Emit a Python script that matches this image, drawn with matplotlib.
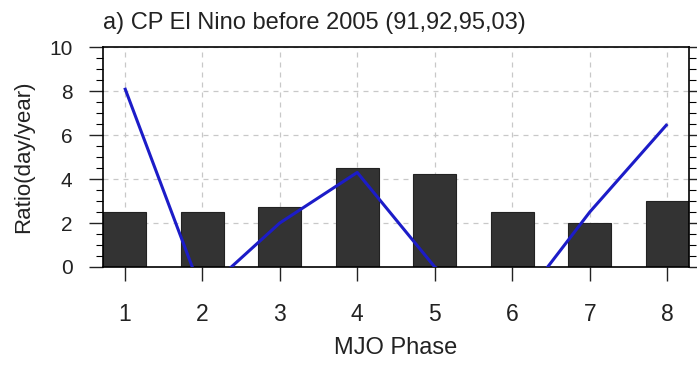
import matplotlib
matplotlib.use("Agg")
import matplotlib.pyplot as plt
from matplotlib.ticker import MultipleLocator

plt.rcParams['font.family'] = ['Liberation Sans', 'DejaVu Sans']

phases = [1, 2, 3, 4, 5, 6, 7, 8]
bar_values = [2.5, 2.5, 2.75, 4.5, 4.25, 2.5, 2.0, 3.0]
line_values = [8.15, -1.2, 2.0, 4.3, 0.0, -2.1, 2.5, 6.5]
title = "a) CP El Nino before 2005 (91,92,95,03)"
xlabel = "MJO Phase"
ylabel = "Ratio(day/year)"

fig = plt.figure(figsize=(6.97, 3.65), dpi=100)
ax = fig.add_axes([0.1478, 0.2685, 0.9885 - 0.1478, 0.871 - 0.2685])

ax.bar(phases, bar_values, width=0.55, color='#333333', edgecolor='#222222', linewidth=0.8, zorder=2)
ax.plot(phases, line_values, color='#1c1cc8', linewidth=2.2, zorder=3, solid_capstyle='butt')

ax.set_xlim(0.72, 8.28)
ax.set_ylim(0, 10)
ax.set_xticks(phases)
ax.set_yticks([0, 2, 4, 6, 8, 10])
ax.yaxis.set_minor_locator(MultipleLocator(0.5))

ax.grid(True, which='major', linestyle=(0, (4, 4)), color='#c8c8c8', linewidth=0.9, zorder=0)
ax.set_axisbelow(True)

ax.tick_params(axis='x', which='major', direction='out', length=10, width=1.0, labelsize=16.5, pad=16,
               colors='#222222')
ax.tick_params(axis='y', which='major', direction='out', length=10, width=1.0, labelsize=15, pad=12,
               right=True, colors='#222222')
ax.tick_params(axis='y', which='minor', direction='out', length=5, width=0.8, right=True)

for s in ax.spines.values():
    s.set_linewidth(1.2)

ax.set_title(title, loc='left', fontsize=17, pad=13, color='#222222')
ax.set_xlabel(xlabel, fontsize=17, labelpad=8, color='#222222')
ax.set_ylabel(ylabel, fontsize=16, labelpad=11, color='#222222')

fig.savefig("out.png", dpi=100)
